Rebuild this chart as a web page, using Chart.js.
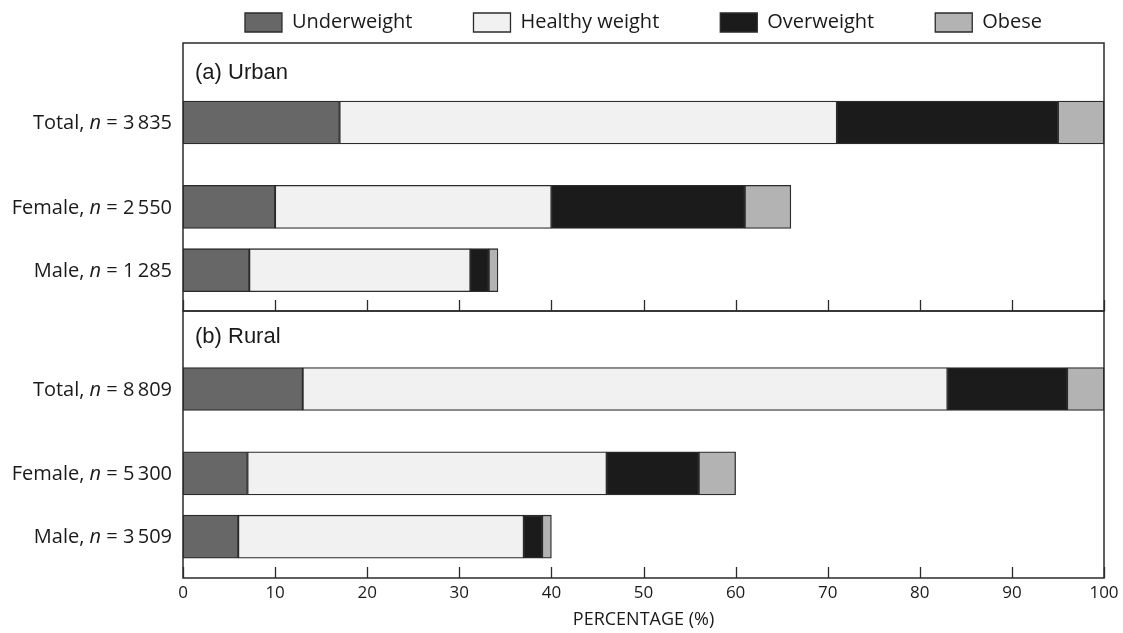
<!DOCTYPE html>
<html>
<head>
<meta charset="utf-8">
<script src="https://cdn.jsdelivr.net/npm/chart.js@4.4.0/dist/chart.umd.min.js"></script>
<style>
  html, body { margin: 0; padding: 0; background: #fff; }
  #wrap { position: relative; width: 1123px; height: 633px; }
  #wrap canvas { position: absolute; left: 0; top: 0; }
</style>
</head>
<body>
<div id="wrap">
  <canvas id="urban" width="1123" height="633"></canvas>
  <canvas id="rural" width="1123" height="633"></canvas>
</div>
<script>
// values, % of all respondents in each setting
var seriesNames = ['Underweight', 'Healthy weight', 'Overweight', 'Obese'];
var seriesColors = ['#676767', '#f1f1f1', '#1b1b1b', '#b3b3b3'];
var groups = ['Total', 'Female', 'Male'];
var urbanN = [3835, 2550, 1285];
var ruralN = [8809, 5300, 3509];

var urbanUnderweight = [17, 10, 7.2];
var urbanHealthy = [54, 30, 24];
var urbanOverweight = [24, 21, 2];
var urbanObese = [5, 5, 1];

var ruralUnderweight = [13, 7, 6];
var ruralHealthy = [70, 39, 31];
var ruralOverweight = [13, 10, 2];
var ruralObese = [4, 4, 1];

var xMin = 0, xMax = 100, xStep = 10;
var xTitle = 'PERCENTAGE (%)';
var panelTitles = ['(a) Urban', '(b) Rural'];

var textColor = '#1a1a1a';
var lineColor = '#2b2b2b';

function fmt(v) {
    return String(v).replace(/\B(?=(\d{3})+(?!\d))/g, '\u2009');
}

function rowName(i, n) {
    return groups[i] + ', n = ' + fmt(n[i]);
}

// y slots: Total, 3 empty, Female, 2 empty, Male
function slotLabels(n) {
    return [rowName(0, n), '', '', '', rowName(1, n), '', '', rowName(2, n)];
}

function makeDatasets(n, series) {
    return series.map(function (vals, s) {
        return {
            label: seriesNames[s],
            data: vals.map(function (v, i) { return { x: v, y: rowName(i, n) }; }),
            backgroundColor: seriesColors[s],
            borderColor: lineColor,
            borderWidth: 1.3,
            borderSkipped: false,
            barThickness: 43,
            clip: false
        };
    });
}

// frame, inward ticks, panel title and row labels (italic n)
var panelPlugin = {
    id: 'panel',
    afterDatasetsDraw: function (chart, args, opts) {
        var ctx = chart.ctx;
        var x = chart.scales.x, y = chart.scales.y;
        ctx.save();
        ctx.strokeStyle = lineColor;
        ctx.lineWidth = 1.5;
        ctx.strokeRect(x.left, opts.top, x.right - x.left, opts.bottom - opts.top);
        ctx.lineWidth = 1.3;
        for (var v = xMin; v <= xMax; v += xStep) {
            var px = Math.round(x.getPixelForValue(v)) + 0.5;
            ctx.beginPath();
            ctx.moveTo(px, opts.bottom);
            ctx.lineTo(px, opts.bottom - 11);
            ctx.stroke();
        }

        ctx.fillStyle = textColor;
        ctx.textBaseline = 'middle';
        ctx.textAlign = 'left';
        ctx.font = '22px "Liberation Sans"';
        ctx.fillText(opts.title, x.left + 12, opts.titleY);

        var normal = '20px "Open Sans"';
        var italic = 'italic 20px "Open Sans"';
        y.getLabels().forEach(function (lab, i) {
            if (!lab) return;
            var bits = lab.split(', n = ');
            var parts = [[bits[0] + ', ', normal], ['n', italic], [' = ' + bits[1], normal]];
            var w = 0;
            parts.forEach(function (p) { ctx.font = p[1]; w += ctx.measureText(p[0]).width; });
            var cx = 172 - w;
            var py = y.getPixelForValue(i);
            parts.forEach(function (p) {
                ctx.font = p[1];
                ctx.fillText(p[0], cx, py + 1);
                cx += ctx.measureText(p[0]).width;
            });
        });
        ctx.restore();
    }
};

var tickFont = { family: 'Open Sans', size: 17 };

var urbanChart = new Chart(document.getElementById('urban'), {
    type: 'bar',
    data: {
        datasets: makeDatasets(urbanN, [urbanUnderweight, urbanHealthy, urbanOverweight, urbanObese])
    },
    options: {
        indexAxis: 'y',
        responsive: false,
        animation: false,
        layout: { padding: { top: -48.5, left: 183, right: 19, bottom: 352.25 } },
        scales: {
            x: {
                position: 'top',
                stacked: true,
                min: xMin,
                max: xMax,
                ticks: { display: false, stepSize: xStep },
                grid: { display: false, drawTicks: false },
                border: { display: false },
                afterFit: function (s) { s.height = 69.45; }
            },
            y: {
                type: 'category',
                labels: slotLabels(urbanN),
                stacked: true,
                display: false
            }
        },
        plugins: {
            legend: {
                position: 'top',
                labels: {
                    font: { family: 'Open Sans', size: 20 },
                    color: textColor,
                    boxWidth: 37,
                    boxHeight: 19,
                    padding: 61
                }
            },
            tooltip: { enabled: false },
            panel: { top: 43, bottom: 311, title: panelTitles[0], titleY: 73 }
        }
    },
    plugins: [panelPlugin]
});

var ruralChart = new Chart(document.getElementById('rural'), {
    type: 'bar',
    data: {
        datasets: makeDatasets(ruralN, [ruralUnderweight, ruralHealthy, ruralOverweight, ruralObese])
    },
    options: {
        indexAxis: 'y',
        responsive: false,
        animation: false,
        layout: { padding: { top: 378.45, left: 183, right: 19, bottom: 0 } },
        scales: {
            x: {
                position: 'bottom',
                stacked: true,
                min: xMin,
                max: xMax,
                ticks: { stepSize: xStep, padding: 35.5, font: tickFont, color: textColor, maxRotation: 0 },
                grid: { display: false, drawTicks: false },
                border: { display: false },
                title: { display: true, text: xTitle, font: { family: 'Open Sans', size: 18 }, color: textColor, padding: { top: 0, bottom: 2 } },
                afterFit: function (s) {
                    s.height = 85.75;
                    // tick padding is meant to be vertical only here
                    s.paddingLeft = 0;
                    s.paddingRight = 0;
                }
            },
            y: {
                type: 'category',
                labels: slotLabels(ruralN),
                stacked: true,
                display: false
            }
        },
        plugins: {
            legend: { display: false },
            tooltip: { enabled: false },
            panel: { top: 311, bottom: 578, title: panelTitles[1], titleY: 337 }
        }
    },
    plugins: [panelPlugin]
});
</script>
</body>
</html>
